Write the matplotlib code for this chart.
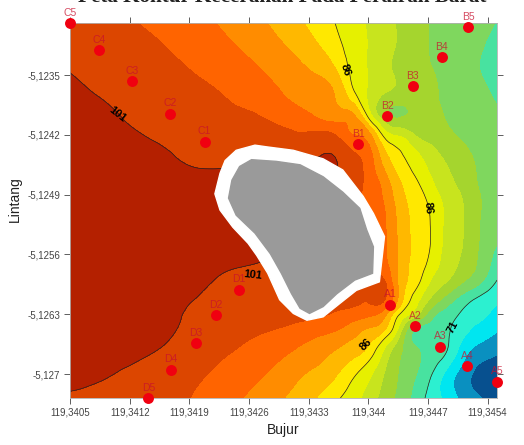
import numpy as np
import matplotlib
matplotlib.use('Agg')
import matplotlib.pyplot as plt
import matplotlib.tri as mtri

plt.rcParams['font.family'] = ['Liberation Sans', 'DejaVu Sans']

# Grid of the brightness field
lons = [119.34050, 119.34085, 119.34120, 119.34156, 119.34191, 119.34226, 119.34261, 119.34296,
        119.34331, 119.34361, 119.34384, 119.34402, 119.34419, 119.34437, 119.34455, 119.34472,
        119.34490, 119.34507, 119.34531, 119.34551]
lats = [-5.12289, -5.12315, -5.12344, -5.12373, -5.12397, -5.12420, -5.12450, -5.12485, -5.12520,
        -5.12555, -5.12590, -5.12613, -5.12631, -5.12649, -5.12672, -5.12701, -5.12728]
field = [
    [99.4, 98.8, 98.2, 97.3, 96.1, 94.8, 93.1, 91.1, 88.5, 86.0, 84.0, 82.5, 81.0, 79.6, 78.2, 76.9, 76.3, 75.6, 74.7, 73.9],
    [100.1, 99.5, 98.8, 98.1, 97.0, 95.7, 94.3, 92.4, 90.0, 87.0, 84.4, 82.7, 81.1, 79.6, 78.2, 76.9, 76.1, 75.3, 74.2, 73.5],
    [100.9, 100.15, 99.45, 98.75, 98.0, 96.8, 95.5, 93.9, 92.0, 89.3, 84.8, 82.7, 80.8, 79.4, 78.3, 77.2, 76.3, 75.3, 74.0, 73.5],
    [101.7, 100.9, 100.2, 99.5, 98.8, 98.1, 96.8, 95.3, 93.4, 91.9, 86.5, 82.3, 79.8, 79.0, 78.2, 77.4, 76.6, 75.7, 74.6, 73.7],
    [102.0, 101.6, 100.7, 100.1, 99.5, 98.9, 98.3, 97.0, 95.3, 93.5, 92.0, 84.0, 78.0, 76.6, 77.4, 77.6, 76.9, 76.2, 75.3, 74.5],
    [102.5, 102.0, 101.3, 100.7, 100.3, 99.8, 99.4, 98.9, 98.5, 98.0, 95.0, 92.5, 85.0, 82.5, 79.9, 78.8, 77.8, 76.8, 76.0, 75.3],
    [102.8, 102.5, 102.0, 101.5, 100.8, 100.7, 100.8, 100.9, 100.9, 101.1, 98.8, 96.2, 90.7, 87.1, 84.5, 81.9, 79.9, 78.2, 76.6, 75.8],
    [103.0, 103.0, 102.8, 102.5, 102.2, 102.0, 102.0, 102.0, 101.8, 101.0, 99.0, 97.0, 94.2, 89.8, 87.2, 84.5, 81.8, 79.9, 76.9, 76.3],
    [103.0, 103.0, 103.0, 103.0, 103.0, 103.0, 103.0, 102.5, 101.5, 100.0, 98.5, 97.0, 95.3, 90.9, 88.3, 86.1, 82.7, 80.7, 77.0, 75.8],
    [103.0, 103.0, 103.0, 103.0, 103.0, 102.5, 102.0, 101.5, 100.5, 99.5, 98.5, 97.2, 95.4, 91.3, 88.5, 86.0, 82.3, 80.3, 76.6, 73.6],
    [103.0, 103.0, 103.0, 102.7, 102.0, 100.8, 100.3, 99.8, 99.3, 98.9, 98.5, 98.3, 98.0, 91.1, 87.4, 83.3, 80.5, 78.0, 74.7, 71.0],
    [103.0, 103.0, 102.6, 101.9, 101.1, 100.6, 100.1, 99.7, 99.2, 98.9, 98.6, 98.3, 98.1, 90.7, 84.5, 79.8, 76.0, 73.1, 70.2, 68.5],
    [103.0, 103.0, 102.4, 101.6, 100.8, 100.3, 99.8, 99.2, 98.6, 97.5, 96.3, 95.4, 92.7, 85.6, 80.9, 75.5, 72.7, 70.8, 68.7, 67.0],
    [103.0, 102.8, 102.0, 101.5, 100.5, 99.7, 98.7, 97.7, 96.3, 95.1, 93.1, 91.3, 89.0, 81.2, 73.6, 72.8, 71.7, 69.5, 66.8, 65.2],
    [102.5, 102.0, 101.6, 100.9, 99.7, 98.6, 97.3, 95.8, 94.0, 92.0, 90.2, 87.8, 82.6, 77.6, 74.5, 73.1, 71.5, 67.5, 63.9, 62.6],
    [101.9, 101.3, 100.5, 99.5, 98.6, 97.4, 95.8, 94.0, 91.6, 89.3, 86.2, 83.4, 79.8, 76.7, 74.2, 71.5, 67.5, 64.3, 60.9, 59.8],
    [100.5, 99.9, 99.2, 98.6, 98.0, 96.4, 94.6, 92.4, 89.7, 86.7, 84.0, 81.4, 78.7, 76.0, 73.0, 70.1, 67.4, 64.7, 62.2, 60.0],
]

band_levels = [40, 62, 65, 68, 71, 74, 77, 80, 83, 86, 89, 92, 95, 98, 101, 120]
band_colors = ['#07508f', '#0a90c0', '#00e6f0', '#2cf0d0', '#48e2a0', '#7fd75e', '#a5d52e',
               '#c8e41e', '#e6f000', '#ffe800', '#ffb800', '#ff8c00', '#ff6400', '#dc4600', '#b42000']
line_levels = [71, 86, 101]

# Stations
station_names = ['C5', 'C4', 'C3', 'C2', 'C1', 'B5', 'B4', 'B3', 'B2', 'B1',
                 'A1', 'A2', 'A3', 'A4', 'A5', 'D1', 'D2', 'D3', 'D4', 'D5']
station_lons = [119.34050, 119.34084, 119.34123, 119.34167, 119.34208,
                119.34517, 119.34486, 119.34452, 119.34422, 119.34388,
                119.34426, 119.34455, 119.34484, 119.34516, 119.34551,
                119.34248, 119.34221, 119.34198, 119.34168, 119.34142]
station_lats = [-5.12289, -5.12321, -5.12357, -5.12395, -5.12428,
                -5.12294, -5.12329, -5.12363, -5.12398, -5.12431,
                -5.12619, -5.12644, -5.12668, -5.12691, -5.12709,
                -5.12601, -5.12631, -5.12664, -5.12695, -5.12728]

# Island and its white blanked border
island_lons = [119.34263, 119.34292, 119.34320, 119.34347, 119.34370, 119.34390, 119.34398, 119.34406,
               119.34405, 119.34384, 119.34363, 119.34347, 119.34331, 119.34320, 119.34310, 119.34298,
               119.34285, 119.34267, 119.34245, 119.34236, 119.34240, 119.34249]
island_lats = [-5.12449, -5.12451, -5.12455, -5.12469, -5.12487, -5.12506, -5.12531, -5.12551,
               -5.12582, -5.12590, -5.12606, -5.12621, -5.12629, -5.12623, -5.12606, -5.12582,
               -5.12559, -5.12535, -5.12514, -5.12494, -5.12473, -5.12457]
border_lons = [119.34267, 119.34245, 119.34232, 119.34226, 119.34220, 119.34226, 119.34241, 119.34259,
               119.34269, 119.34282, 119.34296, 119.34312, 119.34328, 119.34347, 119.34367, 119.34386,
               119.34413, 119.34419, 119.34406, 119.34394, 119.34370, 119.34347, 119.34312, 119.34281]
border_lats = [-5.12432, -5.12438, -5.12450, -5.12465, -5.12489, -5.12508, -5.12528, -5.12547,
               -5.12561, -5.12582, -5.12613, -5.12629, -5.12637, -5.12633, -5.12617, -5.12602,
               -5.12592, -5.12539, -5.12512, -5.12492, -5.12461, -5.12448, -5.12438, -5.12434]

# Contour labels: text, lon, lat, rotation
label_texts = ['101', '101', '86', '86', '86', '71']
label_lons = [119.34106, 119.34264, 119.34373, 119.34470, 119.34397, 119.34499]
label_lats = [-5.12396, -5.12584, -5.12344, -5.12505, -5.12665, -5.12645]
label_rots = [-38, -6, -72, -85, 45, 62]

xtick_vals = [119.3405, 119.3412, 119.3419, 119.3426, 119.3433, 119.344, 119.3447, 119.3454]
xtick_labels = ['119,3405', '119,3412', '119,3419', '119,3426', '119,3433', '119,344', '119,3447', '119,3454']
ytick_vals = [-5.1235, -5.1242, -5.1249, -5.1256, -5.1263, -5.127]
ytick_labels = ['-5,1235', '-5,1242', '-5,1249', '-5,1256', '-5,1263', '-5,127']

fig = plt.figure(figsize=(5.24, 4.45), dpi=100)
ax = fig.add_axes([70 / 524, 47 / 445, 427 / 524, 375 / 445])

# Let matplotlib refine the grid so the bands come out smooth
grid_x, grid_y = np.meshgrid(lons, lats)
triang = mtri.Triangulation(grid_x.ravel(), grid_y.ravel())
refiner = mtri.UniformTriRefiner(triang)
fine_tri, fine_z = refiner.refine_field(np.array(field).ravel(), subdiv=3)

ax.tricontourf(fine_tri, fine_z, levels=band_levels, colors=band_colors)
ax.tricontour(fine_tri, fine_z, levels=line_levels, colors='#222222', linewidths=0.5)

ax.fill(border_lons, border_lats, color='white', zorder=3)
ax.fill(island_lons, island_lats, color='#9a9a9a', zorder=4)

for txt, lon, lat, rot in zip(label_texts, label_lons, label_lats, label_rots):
    ax.text(lon, lat, txt, rotation=rot, rotation_mode='anchor', ha='center', va='center',
            fontsize=8, fontweight='bold', color='black', zorder=5)

ax.scatter(station_lons, station_lats, s=62, color='#f00010', linewidths=0, zorder=6, clip_on=False)
for name, lon, lat in zip(station_names, station_lons, station_lats):
    ax.annotate(name, (lon, lat), xytext=(0, 7.5), textcoords='offset points', ha='center', va='center',
                fontsize=7.5, color='#c8102e', alpha=0.75, zorder=6, annotation_clip=False)

ax.set_xlim(119.3405, 119.34551)
ax.set_ylim(-5.12728, -5.12289)
ax.set_xticks(xtick_vals, xtick_labels)
ax.set_yticks(ytick_vals, ytick_labels)
ax.tick_params(axis='both', labelsize=7, colors='#444444', width=0.6, length=4, pad=3,
               top=True, right=True)
for spine in ax.spines.values():
    spine.set_color('#b0b0b0')
    spine.set_linewidth(0.6)

ax.set_xlabel('Bujur', fontsize=10, color='#222222', va='center')
ax.xaxis.set_label_coords(0.5, -0.085)
ax.set_ylabel('Lintang', fontsize=10, color='#222222', va='center')
ax.yaxis.set_label_coords(-0.129, 0.53)

# Title is cut by the top edge of the picture, as in the source
fig.text(282 / 524, 442.5 / 445, 'Peta Kontur Kecerahan Pada Perairan Barat', family='Liberation Serif',
         fontsize=15.2, fontweight='bold', color='#222222', ha='center', va='baseline')

fig.savefig('out.png', dpi=100)
